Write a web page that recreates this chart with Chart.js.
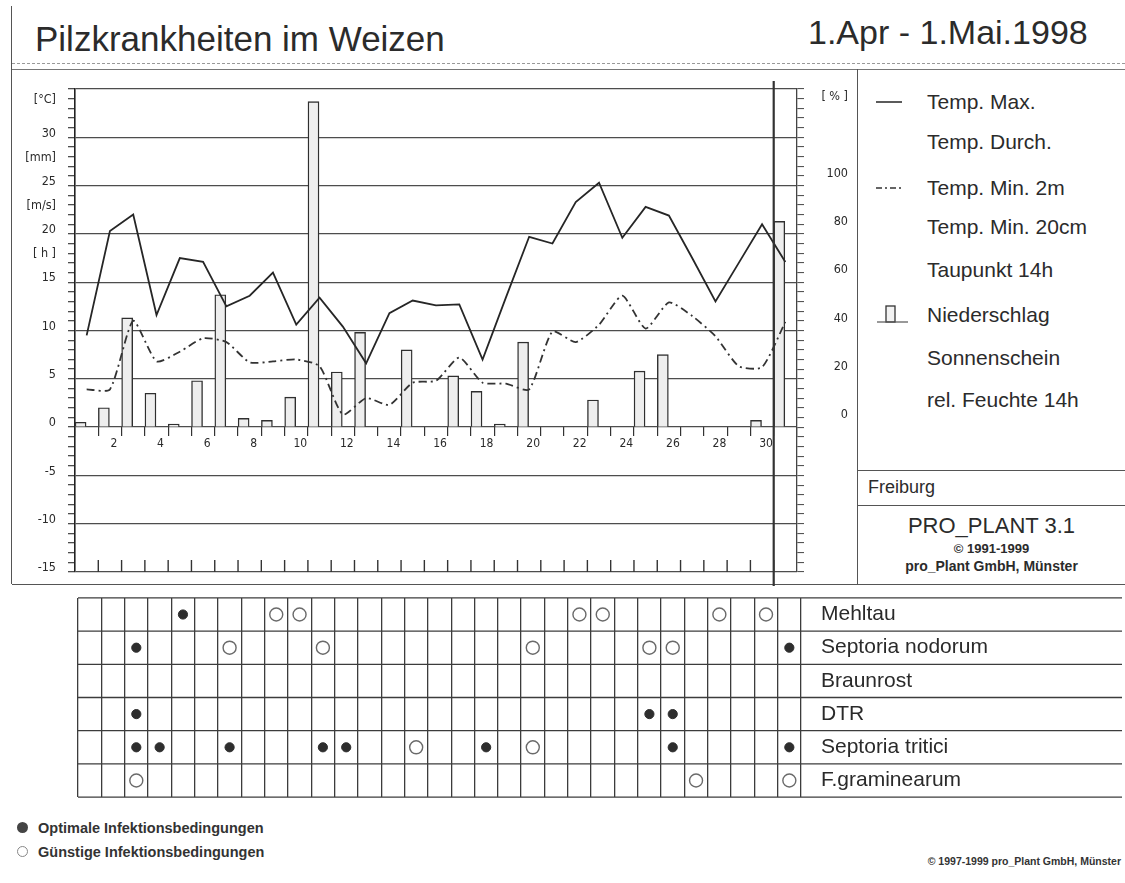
<!DOCTYPE html>
<html lang="de">
<head>
<meta charset="utf-8">
<title>Pilzkrankheiten im Weizen</title>
<script src="https://cdn.jsdelivr.net/npm/chart.js@4.4.1/dist/chart.umd.min.js"></script>
<style>
  body { margin: 0; background: #fff; }
  #page { position: relative; width: 1125px; height: 883px; overflow: hidden;
          font-family: 'Liberation Sans', Arial, sans-serif; color: #2b2b2b; }
  #page div, #page canvas, #page svg { position: absolute; }
  .h { height: 0; border-top: 1.5px solid #555; }
  .v { width: 0; border-left: 1.5px solid #555; }
  .leg { left: 927px; font-size: 21px; line-height: 24px; white-space: nowrap; }
  .foot { left: 38px; font-size: 14.5px; font-weight: bold; line-height: 18px; color: #333; }
  .dot { width: 11px; height: 11px; border-radius: 50%; box-sizing: border-box; }
</style>
</head>
<body>
<div id="page">
  <div style="left:35px;top:19px;font-size:35px;line-height:40px;">Pilzkrankheiten im Weizen</div>
  <div style="left:808px;top:12px;font-size:34px;line-height:40px;">1.Apr - 1.Mai.1998</div>

  <div class="h" style="left:12px;top:63px;width:1113px;border-top:1.5px dashed #999;"></div>
  <div class="h" style="left:12px;top:69px;width:1113px;border-top:1.5px solid #777;"></div>
  <div class="v" style="left:11px;top:6px;height:578px;"></div>
  <div class="v" style="left:857px;top:69px;height:515px;"></div>
  <div class="h" style="left:857px;top:470px;width:268px;"></div>
  <div class="h" style="left:857px;top:505px;width:268px;"></div>
  <div class="h" style="left:12px;top:584px;width:1113px;"></div>

  <canvas id="weather" width="858" height="522" style="left:0;top:68px;"></canvas>
  <canvas id="diseases" width="1125" height="215" style="left:0;top:590px;"></canvas>

  <svg style="left:874px;top:92px" width="40" height="240">
    <line x1="2" y1="10" x2="28" y2="10" stroke="#333" stroke-width="1.6"/>
    <line x1="2" y1="96" x2="28" y2="96" stroke="#333" stroke-width="1.6" stroke-dasharray="6 3 2 3"/>
    <rect x="12" y="214" width="9" height="16" fill="#f2f2f2" stroke="#333" stroke-width="1.3"/>
    <line x1="3" y1="230" x2="34" y2="230" stroke="#555" stroke-width="1.2"/>
  </svg>
  <div class="leg" style="top:90px;">Temp. Max.</div>
  <div class="leg" style="top:130px;">Temp. Durch.</div>
  <div class="leg" style="top:176px;">Temp. Min. 2m</div>
  <div class="leg" style="top:215px;">Temp. Min. 20cm</div>
  <div class="leg" style="top:258px;">Taupunkt 14h</div>
  <div class="leg" style="top:303px;">Niederschlag</div>
  <div class="leg" style="top:346px;">Sonnenschein</div>
  <div class="leg" style="top:388px;">rel. Feuchte 14h</div>

  <div style="left:868px;top:477px;font-size:18px;line-height:20px;">Freiburg</div>
  <div style="left:858px;width:267px;top:513px;text-align:center;font-size:22px;line-height:26px;">PRO_PLANT 3.1</div>
  <div style="left:858px;width:267px;top:541px;text-align:center;font-size:13px;font-weight:bold;line-height:16px;">© 1991-1999</div>
  <div style="left:858px;width:267px;top:558px;text-align:center;font-size:14px;font-weight:bold;line-height:17px;">pro_Plant GmbH, Münster</div>

  <div class="dot" style="left:17px;top:822px;background:#444;"></div>
  <div class="foot" style="top:819px;">Optimale Infektionsbedingungen</div>
  <div class="dot" style="left:17px;top:846px;border:1.4px solid #888;"></div>
  <div class="foot" style="top:843px;">Günstige Infektionsbedingungen</div>
  <div style="right:4px;top:855px;font-size:10.5px;font-weight:bold;color:#333;">© 1997-1999 pro_Plant GmbH, Münster</div>
</div>

<script>
// days 1.Apr .. 1.Mai
const days = ['1','2','3','4','5','6','7','8','9','10','11','12','13','14','15','16',
              '17','18','19','20','21','22','23','24','25','26','27','28','29','30','31'];
const dayLabels = ['2','4','6','8','10','12','14','16','18','20','22','24','26','28','30'];

const tempMax = [9.5, 20.3, 22.0, 11.6, 17.5, 17.1, 12.5, 13.6, 16.0, 10.6, 13.4, 10.4, 6.6, 11.8, 13.1, 12.6,
                 12.7, 7.0, 13.4, 19.7, 19.0, 23.3, 25.3, 19.6, 22.8, 21.9, 17.5, 13.0, 17.0, 21.0, 17.1];
const tempMin2m = [3.9, 3.9, 11.0, 6.8, 7.8, 9.2, 8.8, 6.7, 6.8, 7.0, 6.3, 1.3, 3.0, 2.3, 4.6, 4.8,
                   7.2, 4.6, 4.5, 3.9, 9.9, 8.8, 10.6, 13.6, 10.2, 12.9, 11.5, 9.4, 6.3, 6.2, 10.9];
const precip = [0.5, 2.0, 11.3, 3.5, 0.3, 4.8, 13.7, 0.9, 0.7, 3.1, 33.7, 5.7, 9.8, 0, 8.0, 0,
                5.3, 3.7, 0.3, 8.8, 0, 0, 2.8, 0, 5.8, 7.5, 0, 0, 0, 0.7, 21.3];

const tempLabels = [-15, -10, -5, 0, 5, 10, 15, 20, 25, 30];
const unitLabels = ['[°C]', '[mm]', '[m/s]', '[ h ]'];
const unitAt = [33.5, 27.5, 22.5, 17.5];
const humLabels = [0, 20, 40, 60, 80, 100];
const humUnitAt = 132;
const markerDay = 30;   // thick line after this day

const diseases = ['Mehltau', 'Septoria nodorum', 'Braunrost', 'DTR', 'Septoria tritici', 'F.graminearum'];
const optimalDays = [[5], [3, 31], [], [3, 25, 26], [3, 4, 7, 11, 12, 18, 26, 31], []];
const favourableDays = [[9, 10, 22, 23, 28, 30], [7, 11, 20, 25, 26], [], [], [15, 20], [3, 27, 31]];

const narrow = "'Liberation Sans Narrow', 'DejaVu Sans Condensed', 'Liberation Sans', sans-serif";
const ink = '#2a2a2a';
const gridInk = '#4d4d4d';
const clear = 'rgba(0,0,0,0)';

// keep the axis label heights from shrinking the plot
const noPad = w => s => { s.width = w; s.paddingTop = 0; s.paddingBottom = 0; };

// tick marks on the bottom line and the marker for 1.Mai
const frameMarks = {
    id: 'frameMarks',
    afterDatasetsDraw(chart) {
        const {ctx, chartArea, scales} = chart;
        const x = scales.x, y = scales.y;
        const step = x.getPixelForValue(1) - x.getPixelForValue(0);
        const yb = y.getPixelForValue(-15);
        ctx.save();
        ctx.strokeStyle = '#333';
        ctx.lineWidth = 1.4;
        for (let i = 0; i < days.length - 1; i++) {
            const xp = x.getPixelForValue(i) + step / 2;
            ctx.beginPath();
            ctx.moveTo(xp, yb);
            ctx.lineTo(xp, yb - 12);
            ctx.stroke();
        }
        const xm = x.getPixelForValue(markerDay - 1) + step / 2;
        ctx.lineWidth = 2.2;
        ctx.beginPath();
        ctx.moveTo(xm, chartArea.top - 8);
        ctx.lineTo(xm, chart.height - 4);
        ctx.stroke();
        ctx.restore();
    }
};

new Chart(document.getElementById('weather'), {
    type: 'bar',
    data: {
        labels: days,
        datasets: [
            { type: 'line', label: 'Temp. Max.', data: tempMax, xAxisID: 'x', yAxisID: 'y',
              borderColor: '#262626', borderWidth: 1.8, pointRadius: 0, tension: 0 },
            { type: 'line', label: 'Temp. Min. 2m', data: tempMin2m, xAxisID: 'x', yAxisID: 'y',
              borderColor: '#333', borderWidth: 1.8, borderDash: [8, 4, 2, 4], pointRadius: 0, tension: 0.2 },
            // bars sit a little left of the day, like in the print
            { type: 'bar', label: 'Niederschlag', xAxisID: 'xb', yAxisID: 'y',
              data: precip.map((v, i) => ({ x: i + 1, y: v > 0 ? v : null })),
              backgroundColor: '#eeeeee', borderColor: '#2f2f2f', borderWidth: 1.4,
              barThickness: 11, grouped: false }
        ]
    },
    options: {
        responsive: false,
        animation: false,
        layout: { padding: { top: 21, bottom: 18, left: 0, right: 10 } },
        plugins: { legend: { display: false }, tooltip: { enabled: false } },
        scales: {
            x: {
                type: 'category', offset: true, position: { y: 0 },
                grid: { drawOnChartArea: false, offset: true, tickLength: 9, color: '#333', lineWidth: 1.2 },
                border: { display: false },
                ticks: {
                    autoSkip: false, maxRotation: 0, padding: 1, labelOffset: 4,
                    font: { family: narrow, size: 12 }, color: ink,
                    callback: (v, i) => dayLabels.includes(days[i]) ? days[i] : ''
                }
            },
            xb: { type: 'linear', display: false, offset: false, min: 0.76, max: 31.76 },
            y: {
                position: 'left', min: -15, max: 35,
                afterBuildTicks: s => {
                    const t = [];
                    for (let v = -15; v <= 35; v++) t.push(v);
                    s.ticks = t.concat(unitAt).sort((a, b) => a - b).map(v => ({ value: v }));
                },
                afterFit: noPad(75),
                grid: {
                    color: c => c.tick && c.tick.value % 5 === 0 ? gridInk : clear,
                    tickColor: c => c.tick && Number.isInteger(c.tick.value) ? gridInk : clear,
                    lineWidth: 1.3, tickLength: 7
                },
                border: { display: true, color: '#222', width: 1.6 },
                ticks: {
                    autoSkip: false, padding: 12, labelOffset: -4,
                    font: { family: narrow, size: 12.5 }, color: ink,
                    callback: v => {
                        if (tempLabels.includes(v)) return String(v);
                        const k = unitAt.indexOf(v);
                        return k >= 0 ? unitLabels[k] : '';
                    }
                }
            },
            y2: {
                position: 'right', min: -60, max: 140,
                afterBuildTicks: s => {
                    const t = [];
                    for (let v = -60; v <= 140; v += 4) t.push({ value: v });
                    s.ticks = t;
                },
                afterFit: noPad(51),
                grid: { drawOnChartArea: false, color: '#555', lineWidth: 1.1, tickLength: 7 },
                border: { display: true, color: '#444', width: 1.3 },
                ticks: {
                    autoSkip: false, padding: 11, labelOffset: -12, crossAlign: 'far',
                    font: { family: narrow, size: 12.5 }, color: ink,
                    callback: v => humLabels.includes(v) ? String(v) : (v === humUnitAt ? '[ % ]' : '')
                }
            }
        }
    },
    plugins: [frameMarks]
});

// horizontal row lines run on under the disease names
const rowLines = {
    id: 'rowLines',
    beforeDatasetsDraw(chart) {
        const {ctx, chartArea, scales} = chart;
        ctx.save();
        ctx.strokeStyle = '#3c3c3c';
        ctx.lineWidth = 1.3;
        for (let k = 0; k <= diseases.length; k++) {
            const y = scales.y.getPixelForValue(k + 0.5);
            ctx.beginPath();
            ctx.moveTo(chartArea.left, y);
            ctx.lineTo(chart.width - 3, y);
            ctx.stroke();
        }
        ctx.restore();
    }
};

const toPoints = rows => rows.flatMap((list, r) => list.map(d => ({ x: d, y: r + 1 })));

new Chart(document.getElementById('diseases'), {
    type: 'scatter',
    data: {
        datasets: [
            { label: 'Optimale Infektionsbedingungen', data: toPoints(optimalDays),
              pointRadius: 4.6, pointBackgroundColor: '#2e2e2e', pointBorderColor: '#2e2e2e', pointBorderWidth: 1 },
            { label: 'Günstige Infektionsbedingungen', data: toPoints(favourableDays),
              pointRadius: 6.5, pointBackgroundColor: '#fff', pointBorderColor: '#6a6a6a', pointBorderWidth: 1.4 }
        ]
    },
    options: {
        responsive: false,
        animation: false,
        layout: { padding: { left: 78, top: 5, bottom: 4, right: 0 } },
        plugins: { legend: { display: false }, tooltip: { enabled: false } },
        scales: {
            x: {
                type: 'linear', min: 0.5, max: 31.5,
                afterBuildTicks: s => {
                    s.ticks = days.map((d, i) => ({ value: i + 0.5 })).concat([{ value: days.length + 0.5 }]);
                },
                ticks: { display: false },
                grid: { color: '#3c3c3c', lineWidth: 1.3, drawTicks: false },
                border: { display: false }
            },
            y: {
                type: 'linear', position: 'right', reverse: true, min: 0.5, max: 6.5,
                afterBuildTicks: s => { s.ticks = diseases.map((d, i) => ({ value: i + 1 })); },
                afterFit: noPad(324),
                grid: { display: false },
                border: { display: false },
                ticks: {
                    padding: 12, font: { family: "'Liberation Sans', Arial, sans-serif", size: 21 }, color: ink,
                    callback: (v, i) => diseases[i]
                }
            }
        }
    },
    plugins: [rowLines]
});
</script>
</body>
</html>
